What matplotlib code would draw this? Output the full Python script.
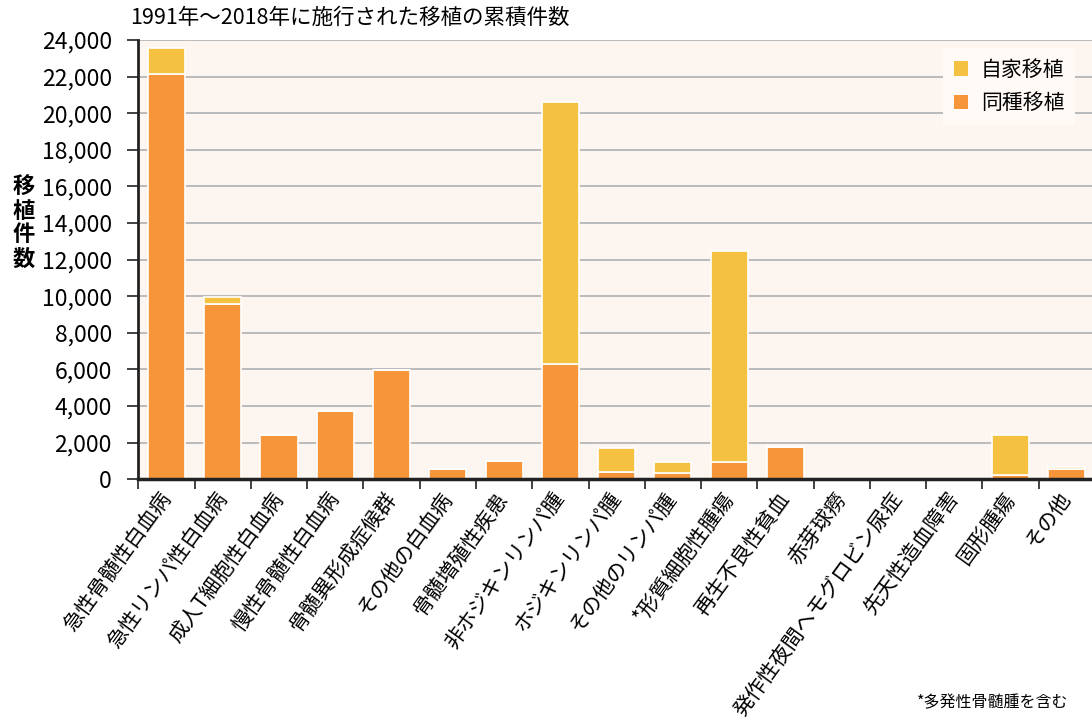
import matplotlib
matplotlib.use("Agg")
import matplotlib.pyplot as plt
from matplotlib.ticker import FuncFormatter, MultipleLocator, FixedLocator
import numpy as np

plt.rcParams['font.family'] = ['Noto Sans CJK JP', 'DejaVu Sans']

categories = ['急性骨髄性白血病', '急性リンパ性白血病', '成人T細胞性白血病', '慢性骨髄性白血病',
              '骨髄異形成症候群', 'その他の白血病', '骨髄増殖性疾患', '非ホジキンリンパ腫',
              'ホジキンリンパ腫', 'その他のリンパ腫', '*形質細胞性腫瘍', '再生不良性貧血',
              '赤芽球癆', '発作性夜間ヘモグロビン尿症', '先天性造血障害', '固形腫瘍', 'その他']
allo = [22130, 9580, 2420, 3715, 5955, 546, 983, 6283, 382, 328, 945, 1740, 0, 0, 0, 235, 563]
auto = [1420, 405, 0, 0, 0, 0, 0, 14347, 1345, 617, 11545, 0, 0, 0, 0, 2202, 127]
series_names = ['自家移植', '同種移植']
title = '1991年～2018年に施行された移植の累積件数'
ylabel = '移植件数'
footnote = '*多発性骨髄腫を含む'

c_allo = '#F7953A'
c_auto = '#F5C141'
bg = '#FDF5EF'

fig = plt.figure(figsize=(10.92, 7.27), dpi=100)
ax = fig.add_axes([138.3/1092, 1-479.3/727, 1-138.3/1092, (479.3-40)/727])
ax.set_facecolor(bg)

x = np.arange(len(categories))
b_allo = ax.bar(x, allo, width=0.66, color=c_allo, edgecolor='white', linewidth=1.2,
                label=series_names[1], zorder=2)
b_auto = ax.bar(x, auto, width=0.66, bottom=allo, color=c_auto, edgecolor='white',
                linewidth=1.2, label=series_names[0], zorder=2)

ax.set_ylim(0, 24000)
ax.set_xlim(-0.5, 16.5 - 3/56.3)
ax.yaxis.set_major_locator(MultipleLocator(2000))
ax.yaxis.set_major_formatter(FuncFormatter(lambda v, p: f'{int(v):,}'))
ax.grid(axis='y', color='#BBBBBB', linewidth=1.4, zorder=1)
ax.set_axisbelow(True)

ax.set_xticks(x)
ax.set_xticklabels(categories, rotation=54, ha='right', va='center',
                   rotation_mode='anchor', fontsize=15)
ax.xaxis.set_minor_locator(FixedLocator(np.arange(-0.5, 17, 1)))
ax.tick_params(axis='x', which='major', length=0, pad=11)
ax.tick_params(axis='x', which='minor', length=7, width=1.3, color='#333333', direction='out')
ax.tick_params(axis='y', which='major', length=8, width=1.3, color='#333333',
               labelsize=16.5, pad=11)

for s in ['top', 'right']:
    ax.spines[s].set_visible(False)
ax.spines['left'].set_linewidth(2)
ax.spines['left'].set_color('#222222')
ax.spines['bottom'].set_linewidth(2.5)
ax.spines['bottom'].set_color('#222222')
ax.spines['left'].set_zorder(3)
ax.spines['bottom'].set_zorder(3)

handles = [b_auto, b_allo]
leg = ax.legend(handles, series_names, loc='upper right', fontsize=15,
                frameon=True, facecolor='#FFFAF6', edgecolor='none', framealpha=1,
                fancybox=False, handlelength=0.7, handleheight=0.7, handletextpad=0.6,
                borderpad=0.5, labelspacing=0.55, bbox_to_anchor=(1 - 7/954, 1 + 2/439))
for h in leg.legend_handles:
    h.set_edgecolor('none')

fig.text(130/1092, 1-18/727, title, fontsize=15.5, ha='left', va='center')
fig.text(24/1092, 1-223/727, '\n'.join(ylabel), fontsize=16, fontweight='bold',
         ha='center', va='center', linespacing=1.05)
fig.text(1068/1092, 1-703/727, footnote, fontsize=11.5, ha='right', va='center')

fig.savefig('out.png', dpi=100)
